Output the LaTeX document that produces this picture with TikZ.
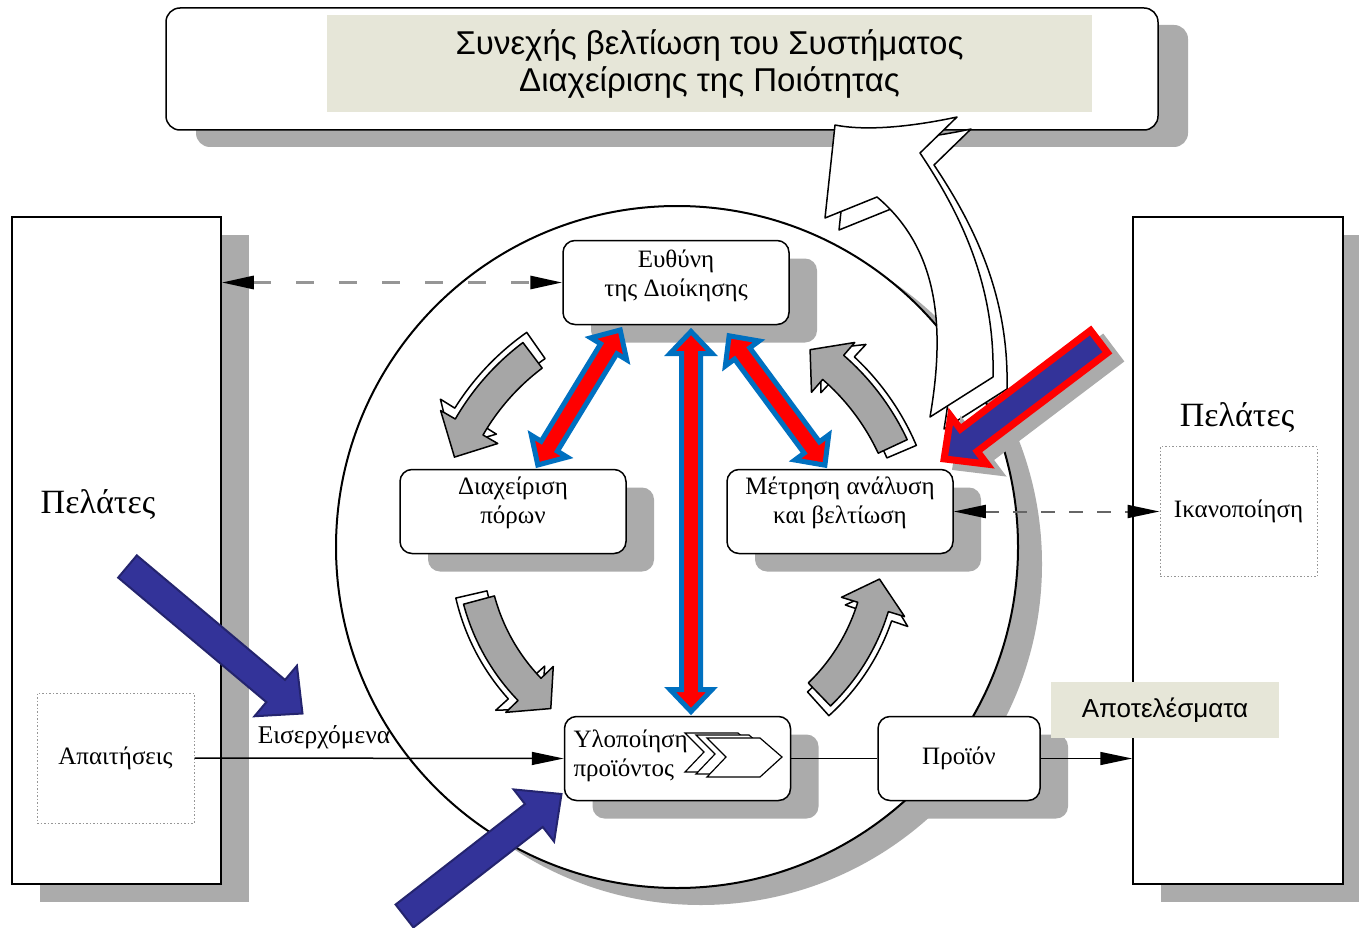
\documentclass[tikz,border=0pt]{standalone}
\usepackage{fontspec}
\setmainfont{Liberation Serif}
\newfontfamily\sansf{Liberation Sans}
\usetikzlibrary{arrows.meta,shadows}
\definecolor{shd}{RGB}{171,171,171}
\definecolor{beige}{RGB}{230,230,216}
\definecolor{navy}{RGB}{51,51,153}
\definecolor{navyd}{RGB}{36,36,110}
\definecolor{bblue}{RGB}{0,112,192}
\definecolor{agray}{RGB}{166,166,166}
\definecolor{dgray}{RGB}{150,150,150}
% single block arrow: style, x1,y1 (tail centre), x2,y2 (tip), half body, half head, head length
\newcommand{\blockarr}[8]{%
  \pgfmathsetmacro\baang{atan2(-(#5-#3),#4-#2)}%
  \pgfmathsetmacro\balen{veclen(#4-#2,#5-#3)}%
  \draw[#1,shift={(#2,#3)},rotate=\baang] (0,-#6) -- ({\balen-#8},-#6) -- ({\balen-#8},-#7) -- (\balen,0)
     -- ({\balen-#8},#7) -- ({\balen-#8},#6) -- (0,#6) -- cycle;}
% double block arrow
\newcommand{\dblarr}[8]{%
  \pgfmathsetmacro\baang{atan2(-(#5-#3),#4-#2)}%
  \pgfmathsetmacro\balen{veclen(#4-#2,#5-#3)}%
  \draw[#1,shift={(#2,#3)},rotate=\baang] (0,0) -- (#8,-#7) -- (#8,-#6) -- ({\balen-#8},-#6) -- ({\balen-#8},-#7)
     -- (\balen,0) -- ({\balen-#8},#7) -- ({\balen-#8},#6) -- (#8,#6) -- (#8,#7) -- cycle;}
% curved arrow around the circle centre: style, r, a1, a2, a3
\newcommand{\carrowdraw}[5]{%
  \draw[#1] plot[domain=#3:#4,samples=24,variable=\q] ({677+(#2+16)*cos(\q)},{547-(#2+16)*sin(\q)})
    -- ({677+(#2+33)*cos(#4)},{547-(#2+33)*sin(#4)})
    -- ({677+(#2)*cos(#5)},{547-(#2)*sin(#5)})
    -- ({677+(#2-33)*cos(#4)},{547-(#2-33)*sin(#4)})
    -- plot[domain=#4:#3,samples=24,variable=\q] ({677+(#2-16)*cos(\q)},{547-(#2-16)*sin(\q)})
    -- cycle;}
% r, a1, a2, a3 (front face), then back face values
\newcommand{\carrow}[8]{%
  \carrowdraw{fill=white,draw=black,line width=1.5pt,line join=round}{#5}{#6}{#7}{#8}%
  \carrowdraw{fill=agray,draw=black,line width=1.5pt,line join=round}{#1}{#2}{#3}{#4}}
\begin{document}
\begin{tikzpicture}[x=1pt,y=-1pt,
  shd28/.style={drop shadow={shadow xshift=28pt,shadow yshift=-18pt,fill=shd,opacity=1}},
  ibox/.style={draw,line width=1.5pt,rounded corners=12pt,fill=white,minimum width=226pt,minimum height=84pt,shd28},
  btxt/.style={align=center,font=\fontsize{25}{29.5}\selectfont},
  bigbox/.style={draw,line width=1.5pt,fill=white,minimum width=209pt,minimum height=667pt,shd28},
  dotbox/.style={draw=dgray,line width=1pt,dash pattern=on 1.5pt off 2pt,minimum width=157pt,minimum height=130pt,
    font=\fontsize{25}{29}\selectfont},
  arrtip/.style={-{Triangle[length=32pt,width=13pt]}},
  dashA/.style={draw=dgray,line width=3pt,dash pattern=on 18pt off 25pt,
    {Triangle[length=32pt,width=13pt,color=black]}-{Triangle[length=32pt,width=13pt,color=black]}},
  dashB/.style={draw=black!60,line width=2pt,dash pattern=on 14pt off 14pt,
    {Triangle[length=32pt,width=13pt,color=black]}-{Triangle[length=32pt,width=13pt,color=black]}},
  navyarr/.style={fill=navy,draw=navyd,line width=2pt,line join=miter},
  dblstyle/.style={fill=red,draw=bblue,line width=5pt,line join=miter},
]
\useasboundingbox (0,0) rectangle (1359,928);
\fill[white] (0,0) rectangle (1359,928);

% outer customer boxes
\node[bigbox] (lbox) at (116.5,550.5) {};
\node[bigbox,minimum width=210pt] (rbox) at (1238,550.5) {};
\node[font=\fontsize{34}{38}\selectfont] (lpel) at (98,505) {Πελάτες};
\node[font=\fontsize{34}{38}\selectfont] (rpel) at (1237,418) {Πελάτες};
\node[dotbox] (apait) at (115.5,758) {Απαιτήσεις};
\node[dotbox] (ikan) at (1238.5,511.5) {Ικανοποίηση};

% top box
\node[draw,line width=1.5pt,rounded corners=14pt,fill=white,minimum width=992pt,minimum height=122pt,
  drop shadow={shadow xshift=30pt,shadow yshift=-17pt,fill=shd,opacity=1}] (topbox) at (662,69) {};
\node[fill=beige,minimum width=765pt,minimum height=97pt,align=center,
  font=\sansf\fontsize{33}{37}\selectfont] (title) at (709.5,63.5)
  {\rule{0pt}{0pt}\raisebox{0pt}{}Συνεχής βελτίωση του Συστήματος\\Διαχείρισης της Ποιότητας};

% circle
\node[circle,draw,line width=2pt,fill=white,minimum size=682pt,
  drop shadow={shadow xshift=24pt,shadow yshift=-17pt,fill=shd,opacity=1}] (circ) at (677,547) {};

% inner boxes
\node[ibox] (evth) at (676,282.5) {};
\node[btxt] (evthT) at (676,276) {Ευθύνη\\της Διοίκησης};
\node[ibox] (diax) at (513,511.5) {};
\node[btxt] (diaxT) at (513,503) {Διαχείριση\\πόρων};
\node[ibox] (metr) at (840,511.5) {};
\node[btxt] (metrT) at (840,503) {Μέτρηση ανάλυση\\και βελτίωση};
\node[ibox] (ylop) at (677.5,758.5) {};
\node[btxt,align=left,anchor=west] (ylopT) at (570,756) {Υλοποίηση\\προϊόντος};
\node[ibox,minimum width=162pt] (proion) at (959,758.5) {};
\node[btxt] (proionT) at (959,758.5) {Προϊόν};
\node[fill=beige,minimum width=228pt,minimum height=56pt,font=\sansf\fontsize{26}{30}\selectfont] (apot) at (1165,710) {Αποτελέσματα};
\node[font=\fontsize{25.5}{29}\selectfont] (eiserx) at (324,737) {Εισερχόμενα};

% chevrons
\foreach \dx/\dy in {-22/-5,-11/-3,0/0}{
  \draw[fill=white,line width=1.2pt,shift={(\dx,\dy)}] (707,738) -- (760,738) -- (782,757) -- (760,777) -- (707,777) -- (726,757) -- cycle;
}

% connectors
\draw[line width=1.5pt,arrtip] (apait.east) -- (ylop.west);
\draw[line width=1.5pt] (ylop.east) -- (proion.west);
\draw[line width=1.5pt,arrtip] (proion.east) -- (proion.east -| rbox.west);
\draw[dashA] (lbox.east |- evth.west) -- (evth.west);
\draw[dashB] (metr.east) -- (ikan.west);

% curved grey arrows
\carrow{240}{127}{150}{158}{246}{125}{148}{156}
\carrow{238}{25}{49}{56}{244}{23}{47}{54}
\carrow{205}{195}{224}{232}{211}{193}{222}{230}
\carrow{205}{314}{343}{351}{211}{312}{341}{349}

% big white arrow
\begin{scope}[line width=1.5pt,line join=round]
\draw[fill=white,shift={(14,12)}] (835,125) .. controls (870,132) and (920,125) .. (957,117) -- (920,153)
  .. controls (965,220) and (995,290) .. (993,377) -- (930,417)
  .. controls (945,330) and (940,250) .. (877,197) -- (825,218) -- cycle;
\draw[fill=white] (835,125) .. controls (870,132) and (920,125) .. (957,117) -- (920,153)
  .. controls (965,220) and (995,290) .. (993,377) -- (930,417)
  .. controls (945,330) and (940,250) .. (877,197) -- (825,218) -- cycle;
\end{scope}

% red/blue double arrows
\dblarr{dblstyle}{691}{331.5}{691}{711.5}{9.5}{21}{22}
\dblarr{dblstyle}{537.8}{465}{620.2}{330}{9.5}{21}{22}
\dblarr{dblstyle}{729.1}{335.8}{824.9}{465.2}{9.5}{21}{22}

% navy arrows
\blockarr{navyarr}{127.5}{566.5}{302.5}{713.5}{14.5}{33}{35}
\blockarr{navyarr}{404.5}{916}{561.5}{794}{14.5}{33}{35}

% red-outlined navy arrow with shadow
\blockarr{fill=shd,draw=shd,line width=7pt,line join=miter}{1111}{349.6}{956}{466.9}{14}{30}{31}
\blockarr{fill=navy,draw=red,line width=7pt,line join=miter}{1099}{341.6}{944.1}{458.9}{14}{30}{31}
\end{tikzpicture}
\end{document}
